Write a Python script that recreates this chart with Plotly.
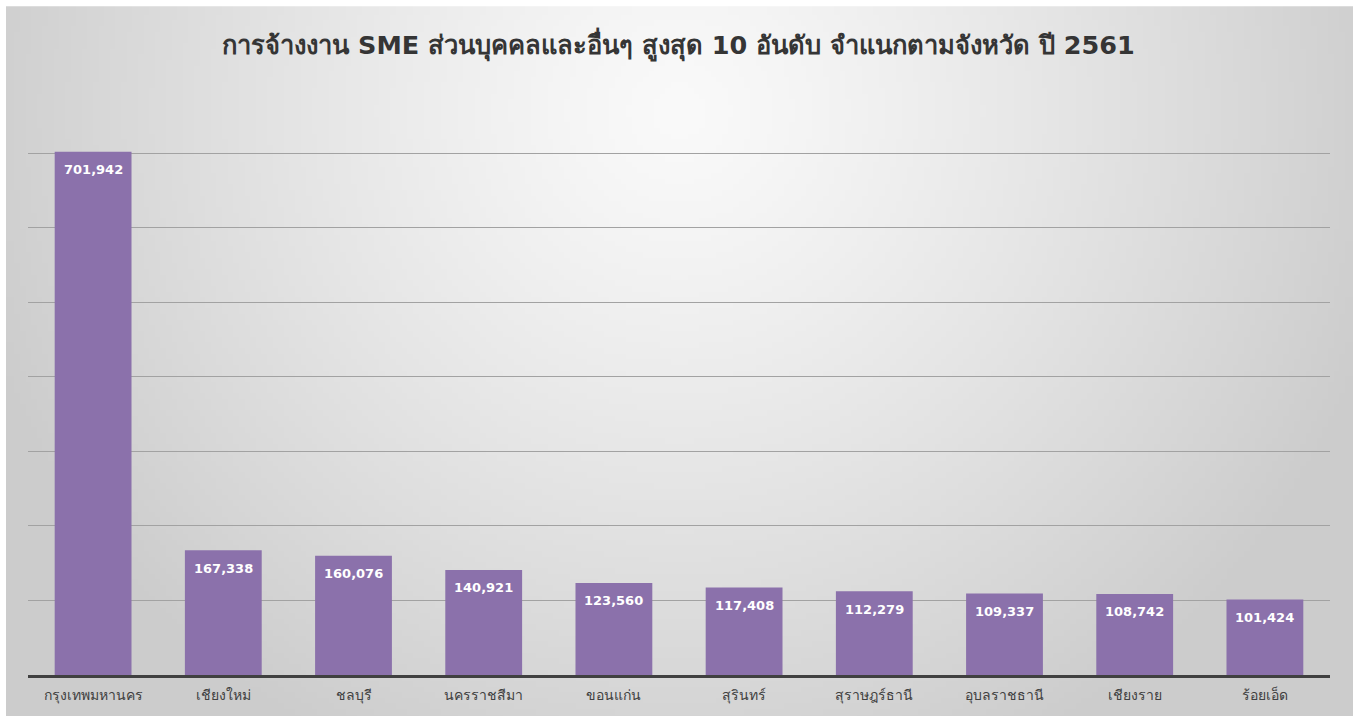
import base64
import struct
import zlib

import plotly.graph_objects as go

# ── Data ───────────────────────────────────────────────────────────────────
PROVINCES = ["กรุงเทพมหานคร", "เชียงใหม่", "ชลบุรี", "นครราชสีมา", "ขอนแก่น",
             "สุรินทร์", "สุราษฎร์ธานี", "อุบลราชธานี", "เชียงราย", "ร้อยเอ็ด"]
EMPLOYMENT = [701942, 167338, 160076, 140921, 123560,
              117408, 112279, 109337, 108742, 101424]
TITLE = "การจ้างงาน SME ส่วนบุคคลและอื่นๆ สูงสุด 10 อันดับ จำแนกตามจังหวัด ปี 2561"

BAR_COLOR = "#8b71ab"
FONT = "Tahoma, 'DejaVu Sans', 'Noto Sans', sans-serif"

W, H = 1357, 716
ML, MR, MT, MB = 28, 27, 86, 39
PW, PH = W - ML - MR, H - MT - MB


def radial_png(w=240, h=130, inner=250, outer=204, cx=0.5, cy=0.14):
    """Small grey radial gradient PNG, returned as a data URI."""
    rows = b""
    for j in range(h):
        row = bytearray([0])
        for i in range(w):
            dx = (i / (w - 1) - cx) / 0.55
            dy = (j / (h - 1) - cy) / 1.0
            d = min(1.0, (dx * dx + dy * dy) ** 0.5)
            v = int(inner + (outer - inner) * d ** 1.2)
            row += bytes([v, v, v])
        rows += bytes(row)

    def chunk(tag, data):
        c = tag + data
        return struct.pack(">I", len(data)) + c + struct.pack(">I", zlib.crc32(c) & 0xffffffff)

    png = b"\x89PNG\r\n\x1a\n"
    png += chunk(b"IHDR", struct.pack(">IIBBBBB", w, h, 8, 2, 0, 0, 0))
    png += chunk(b"IDAT", zlib.compress(rows, 9))
    png += chunk(b"IEND", b"")
    return "data:image/png;base64," + base64.b64encode(png).decode()


fig = go.Figure()
fig.add_trace(go.Bar(
    x=PROVINCES, y=EMPLOYMENT,
    marker={"color": BAR_COLOR, "line": {"width": 0}},
    hovertemplate="%{x}: %{y:,}<extra></extra>",
))

# value labels just inside the top of each bar
for name, val in zip(PROVINCES, EMPLOYMENT):
    fig.add_annotation(
        x=name, y=val, text=f"<b>{val:,}</b>",
        showarrow=False, yanchor="middle", yshift=-18,
        font={"color": "#ffffff", "size": 13, "family": FONT},
    )

fig.update_layout(
    width=W, height=H,
    paper_bgcolor="#ffffff",
    plot_bgcolor="rgba(0,0,0,0)",
    margin={"l": ML, "r": MR, "t": MT, "b": MB},
    bargap=0.41,
    showlegend=False,
    font={"family": FONT, "color": "#404040"},
    title={
        "text": f"<b>{TITLE}</b>",
        "x": 0.5, "xanchor": "center", "y": 1 - 45 / H, "yanchor": "middle",
        "font": {"size": 25.5, "color": "#353535", "family": FONT},
    },
    xaxis={
        "showgrid": False,
        "showline": True, "linecolor": "#404040", "linewidth": 2.5,
        "ticks": "", "tickfont": {"size": 14, "color": "#404040"},
        "ticklabelstandoff": 5,
        "fixedrange": True,
    },
    yaxis={
        "range": [0, 790000],
        "dtick": 100000,
        "showgrid": True, "gridcolor": "#a2a2a2", "gridwidth": 1,
        "showticklabels": False, "zeroline": False,
        "fixedrange": True,
    },
    images=[{
        "source": radial_png(),
        "xref": "paper", "yref": "paper",
        "x": (6 - ML) / PW, "y": (H - MB - 6) / PH,
        "sizex": (W - 4 - 6) / PW, "sizey": (H + 20) / PH,
        "xanchor": "left", "yanchor": "top",
        "sizing": "stretch", "layer": "below",
    }],
)

fig.write_html("out.html", config={"displayModeBar": False},
               post_script="document.body.style.margin='0';")
